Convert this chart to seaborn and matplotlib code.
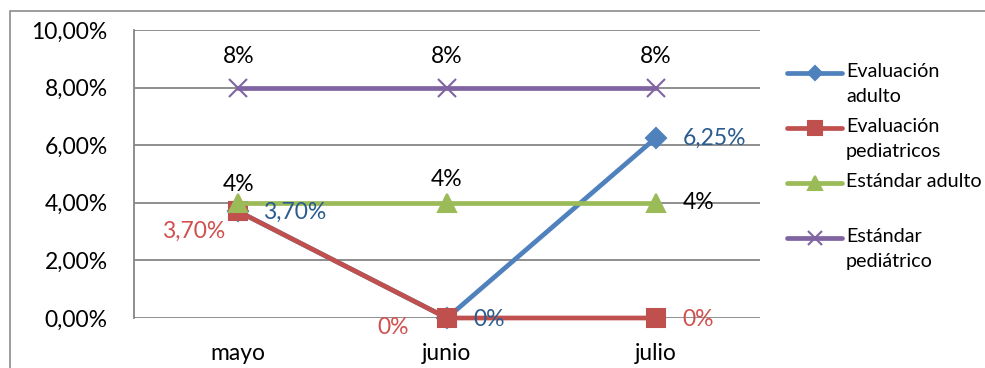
import matplotlib
matplotlib.use("Agg")
import matplotlib.pyplot as plt
import seaborn as sns
import pandas as pd
from matplotlib.lines import Line2D
from matplotlib.patches import Rectangle

months = ["mayo", "junio", "julio"]
series_names = ["Evaluación adulto", "Evaluación pediatricos", "Estándar adulto", "Estándar pediátrico"]
legend_labels = ["Evaluación\nadulto", "Evaluación\npediatricos", "Estándar adulto", "Estándar\npediátrico"]
eval_adulto = [3.70, 0.0, 6.25]
eval_pediatricos = [3.70, 0.0, 0.0]
std_adulto = [4.0, 4.0, 4.0]
std_pediatrico = [8.0, 8.0, 8.0]
y_ticks = [0, 2, 4, 6, 8, 10]
y_tick_labels = ["0,00%", "2,00%", "4,00%", "6,00%", "8,00%", "10,00%"]

colors = ["#4F81BD", "#C0504D", "#9BBB59", "#8064A2"]
markers = ["D", "s", "^", "x"]
msizes = [10, 13, 13, 13]

values = [eval_adulto, eval_pediatricos, std_adulto, std_pediatrico]
rows = []
for name, vals in zip(series_names, values):
    for i, (m, v) in enumerate(zip(months, vals)):
        rows.append({"mes": m, "idx": i, "serie": name, "valor": v})
df = pd.DataFrame(rows)

sns.set_theme(style="white")
plt.rcParams["font.family"] = ["Lato", "DejaVu Sans"]

fig = plt.figure(figsize=(9.85, 3.68), dpi=100)
ax = fig.add_axes([134 / 985, 1 - 318 / 368, (760 - 134) / 985, (318 - 30) / 368])

# outer chart frame
fig.add_artist(Rectangle((10 / 985, -0.1), 1.0, 1 - 11 / 368 + 0.1, transform=fig.transFigure,
                         fill=False, edgecolor="#8C8C8C", linewidth=1.2, clip_on=False))

for k, name in enumerate(series_names):
    sub = df[df["serie"] == name]
    sns.lineplot(data=sub, x="idx", y="valor", ax=ax, color=colors[k], linewidth=3.4,
                 marker=markers[k], markersize=msizes[k], markeredgecolor=colors[k],
                 markeredgewidth=1.5, zorder=3 + k, legend=False, clip_on=False)

ax.set_xlim(-0.5, 2.5)
ax.set_ylim(0, 10)
ax.set_yticks(y_ticks)
ax.set_yticklabels(y_tick_labels)
ax.set_xticks(range(len(months)))
ax.set_xticklabels(months)
ax.set_xlabel("")
ax.set_ylabel("")
ax.grid(axis="y", color="#868686", linewidth=1.3)
ax.set_axisbelow(True)
for s in ["top", "right", "bottom"]:
    ax.spines[s].set_visible(False)
ax.spines["left"].set_color("#868686")
ax.spines["left"].set_linewidth(1.3)
ax.tick_params(axis="y", length=0, pad=19, labelsize=16.5, labelcolor="black")
ax.tick_params(axis="x", length=0, pad=18, labelsize=16.5, labelcolor="black")

def lab(x, y, text, dx, dy, color, ha):
    ax.annotate(text, (x, y), xytext=(dx, dy), textcoords="offset pixels",
                ha=ha, va="center", fontsize=16.5, color=color, zorder=10)

blue_t = "#2A5B8F"
red_t = "#D0504D"
# Estándar pediátrico
for i, v in enumerate(std_pediatrico):
    lab(i, v, "8%", 0, 31, "black", "center")
# Estándar adulto
lab(0, std_adulto[0], "4%", 0, 18, "black", "center")
lab(1, std_adulto[1], "4%", 0, 23, "black", "center")
lab(2, std_adulto[2], "4%", 27, 0, "black", "left")
# Evaluación adulto
lab(0, eval_adulto[0], "3,70%", 25, -1, blue_t, "left")
lab(1, eval_adulto[1], "0%", 26, -2, blue_t, "left")
lab(2, eval_adulto[2], "6,25%", 27, 0, blue_t, "left")
# Evaluación pediatricos
lab(0, eval_pediatricos[0], "3,70%", -13, -20, red_t, "right")
lab(1, eval_pediatricos[1], "0%", -38, -9, red_t, "right")
lab(2, eval_pediatricos[2], "0%", 27, -2, red_t, "left")

# legend (manual, Excel-style: handle aligned with first text line)
leg_y = [73, 128, 183, 238]
for k in range(4):
    yf = 1 - leg_y[k] / 368
    fig.add_artist(Line2D([787 / 985, 842 / 985], [yf, yf], transform=fig.transFigure,
                          color=colors[k], linewidth=3.4, solid_capstyle="round"))
    fig.add_artist(Line2D([814.5 / 985], [yf], transform=fig.transFigure, color=colors[k],
                          marker=markers[k], markersize=msizes[k] - 3, markeredgecolor=colors[k],
                          markeredgewidth=1.5, linestyle="none"))
    fig.text(846 / 985, 1 - (leg_y[k] - 10) / 368, legend_labels[k], ha="left", va="top",
             fontsize=14.2, color="black", linespacing=1.6)

fig.savefig("out.png", dpi=100)
